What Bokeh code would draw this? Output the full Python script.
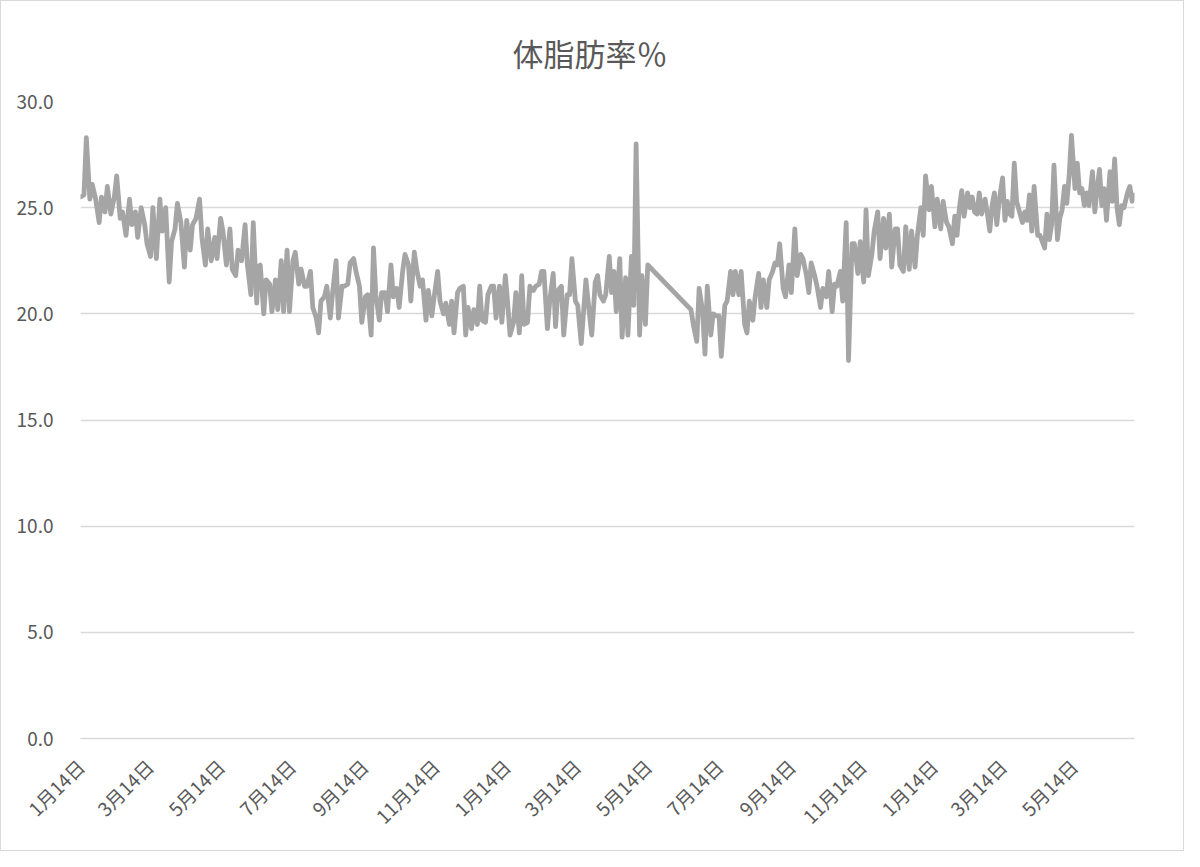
import math
from datetime import date
import numpy as np
from bokeh.plotting import figure
from bokeh.models import ColumnDataSource, Range1d, FixedTicker, PrintfTickFormatter
from bokeh.embed import file_html
from bokeh.resources import INLINE

# ---------------- data ----------------
START = date(2019, 1, 14)
END_DAY = 903  # last measurement day (offset from START)

TICK_DATES = [date(2019, 1, 14), date(2019, 3, 14), date(2019, 5, 14), date(2019, 7, 14),
              date(2019, 9, 14), date(2019, 11, 14), date(2020, 1, 14), date(2020, 3, 14),
              date(2020, 5, 14), date(2020, 7, 14), date(2020, 9, 14), date(2020, 11, 14),
              date(2021, 1, 14), date(2021, 3, 14), date(2021, 5, 14)]

# measurement blocks: first day offset, last day offset, readings (体脂肪率 %)
BLOCK1_SPAN = (0, 151)
BLOCK1 = [25.5, 25.6, 28.3, 25.4, 26.1, 25.4, 24.3, 25.5, 24.8, 26.0, 24.7, 25.5, 26.5, 24.5,
          24.8, 23.7, 25.4, 24.2, 24.8, 23.6, 25.0, 24.2, 23.3, 22.7, 25.0, 22.6, 25.4, 23.9,
          25.0, 21.5, 23.4, 24.0, 25.2, 24.3, 22.2, 24.4, 23.0, 24.2, 24.5, 25.4, 23.6, 22.3,
          24.0, 22.5, 23.6, 22.6, 24.5, 23.9, 22.3, 24.0, 22.1, 21.8, 23.0, 22.5, 24.2, 22.3,
          20.9, 24.3, 20.5]

BLOCK2_SPAN = (152, 303)
BLOCK2 = [22.2, 22.3, 20.0, 21.6, 21.4, 20.1, 21.6, 20.2, 22.5, 20.1, 23.0, 20.1, 22.5, 22.9,
          21.4, 22.1, 21.3, 21.3, 22.0, 20.3, 19.8, 19.1, 20.6, 20.8, 21.3, 19.8, 21.0, 22.5,
          19.8, 21.3, 21.3, 21.4, 22.4, 22.6, 22.0, 21.3, 19.6, 20.8, 20.9, 19.0, 23.1, 20.9,
          19.7, 21.0, 21.0, 20.1, 22.3, 20.8, 21.2, 20.3, 22.0, 22.8, 22.3, 20.6, 22.9, 22.1,
          21.3, 21.6, 19.7, 21.1, 19.9, 20.8]

BLOCK3_SPAN = (306, 455)
BLOCK3 = [22.0, 20.6, 20.0, 20.5, 19.5, 20.6, 19.1, 21.0, 21.2, 21.3, 19.0, 20.3, 19.3, 20.2,
          19.5, 21.3, 19.7, 19.6, 20.9, 21.3, 21.3, 19.8, 21.3, 19.6, 21.8, 20.5, 19.0, 19.6,
          21.0, 19.1, 21.8, 19.5, 19.6, 21.3, 21.1, 21.3, 21.4, 22.0, 22.0, 19.3, 20.6, 21.9,
          19.4, 21.1, 21.3, 19.0, 20.9, 20.9, 22.6, 20.6, 20.4, 18.6, 20.1, 21.6, 20.0, 19.0,
          21.5, 21.8, 20.9, 20.6, 20.9, 22.7, 21.0]

BLOCK4_SPAN = (457, 486)
BLOCK4 = [22.0, 20.1, 22.6, 18.9, 21.7, 19.0, 22.7, 20.4, 28.0, 19.0, 21.8, 19.5, 22.3]

BLOCK5_SPAN = (523, 595)
BLOCK5 = [20.2, 19.5, 18.7, 21.2, 20.1, 18.1, 21.3, 19.0, 20.0, 19.9, 19.9, 18.0, 20.4, 20.6,
          22.0, 20.9, 22.0, 20.9, 22.0, 19.5, 19.1, 20.6, 19.7, 20.8, 21.9, 20.3, 21.6, 20.3,
          21.6, 22.0, 22.4]

BLOCK6_SPAN = (597, 749)
BLOCK6 = [22.3, 23.3, 21.2, 20.8, 22.3, 21.0, 24.0, 21.8, 22.8, 22.6, 21.8, 21.0, 22.4, 21.8,
          21.3, 20.3, 21.2, 20.8, 22.0, 20.1, 21.4, 21.3, 22.0, 20.6, 24.3, 17.8, 23.3, 23.3,
          21.9, 23.4, 21.5, 24.9, 21.8, 22.8, 23.9, 24.8, 22.6, 24.5, 23.1, 24.7, 22.2, 24.0,
          24.0, 22.3, 22.0, 24.1, 22.1, 23.9, 22.2, 23.7, 25.0, 23.7, 26.5, 24.9, 26.0, 24.1,
          25.4, 24.0, 25.3, 24.3, 24.1, 23.3, 24.6]

BLOCK7_SPAN = (751, 903)
BLOCK7 = [23.7, 25.0, 25.8, 24.6, 25.7, 25.0, 25.5, 24.8, 24.7, 25.7, 24.7, 25.4, 24.7, 23.9,
          25.1, 25.7, 24.2, 25.3, 26.4, 24.4, 25.3, 24.7, 24.6, 27.1, 25.3, 24.7, 24.3, 24.8,
          24.4, 25.6, 23.9, 26.0, 23.7, 23.7, 23.4, 23.1, 24.7, 23.5, 24.2, 27.0, 23.5, 24.5,
          24.9, 26.0, 25.2, 26.5, 28.4, 25.9, 27.1, 25.7, 25.9, 25.1, 25.7, 25.1, 26.7, 24.8,
          25.9, 26.8, 25.1, 25.9, 24.4, 26.7, 25.3, 27.3, 25.0, 24.2, 25.1, 25.0, 25.7, 26.0,
          25.3, 25.6]

Y_TICKS = [0, 5, 10, 15, 20, 25, 30]
TITLE = "体脂肪率％"

# ---------------- build ----------------
blocks = [(BLOCK1_SPAN, BLOCK1), (BLOCK2_SPAN, BLOCK2), (BLOCK3_SPAN, BLOCK3),
          (BLOCK4_SPAN, BLOCK4), (BLOCK5_SPAN, BLOCK5), (BLOCK6_SPAN, BLOCK6),
          (BLOCK7_SPAN, BLOCK7)]
xs, ys = [], []
for (d0, d1), vals in blocks:
    days = np.round(np.linspace(d0, d1, len(vals))).astype(int)
    xs.extend(days.tolist())
    ys.extend(vals)
src = ColumnDataSource(dict(x=xs, y=ys))

tick_days = [(d - START).days for d in TICK_DATES]
tick_labels = {t: f"{d.month}月{d.day}日" for t, d in zip(tick_days, TICK_DATES)}

FONT = "Noto Sans CJK JP"
TXT = "#595959"
GRID = "#D9D9D9"

p = figure(width=1184, height=851, output_backend="svg", toolbar_location=None,
           x_range=Range1d(0, END_DAY), y_range=Range1d(0, 30),
           min_border_left=79, min_border_right=51, min_border_top=100, min_border_bottom=114)
p.outline_line_color = None
p.background_fill_color = "white"
p.border_fill_color = "white"
p.styles = {"border": "1px solid #D9D9D9", "box-sizing": "border-box"}

p.title.text = TITLE
p.title.text_font = FONT
p.title.text_font_size = "31px"
p.title.text_font_style = "normal"
p.title.text_color = TXT
p.title.text_line_height = 1.0
p.title.vertical_align = "top"
p.title.align = "left"
p.title.offset = 432
p.title.standoff = 50

p.line("x", "y", source=src, line_color="#A5A5A5", line_width=4.8,
       line_join="round", line_cap="round")

p.xgrid.visible = False
p.ygrid.grid_line_color = GRID
p.ygrid.grid_line_width = 1.3
p.ygrid.ticker = FixedTicker(ticks=Y_TICKS)

ya = p.yaxis[0]
ya.ticker = FixedTicker(ticks=Y_TICKS)
ya.formatter = PrintfTickFormatter(format="%.1f")
ya.axis_line_color = None
ya.major_tick_line_color = None
ya.minor_tick_line_color = None
ya.major_label_text_font = FONT
ya.major_label_text_font_size = "19px"
ya.major_label_text_color = TXT
ya.major_label_standoff = 21

xa = p.xaxis[0]
xa.ticker = FixedTicker(ticks=tick_days)
xa.major_label_overrides = tick_labels
xa.major_label_orientation = math.pi / 4
xa.axis_line_color = GRID
xa.axis_line_width = 1.3
xa.major_tick_line_color = None
xa.minor_tick_line_color = None
xa.major_label_text_font = FONT
xa.major_label_text_font_size = "19px"
xa.major_label_text_color = TXT
xa.major_label_standoff = 18

open("out.html", "w").write(file_html(p, INLINE))
